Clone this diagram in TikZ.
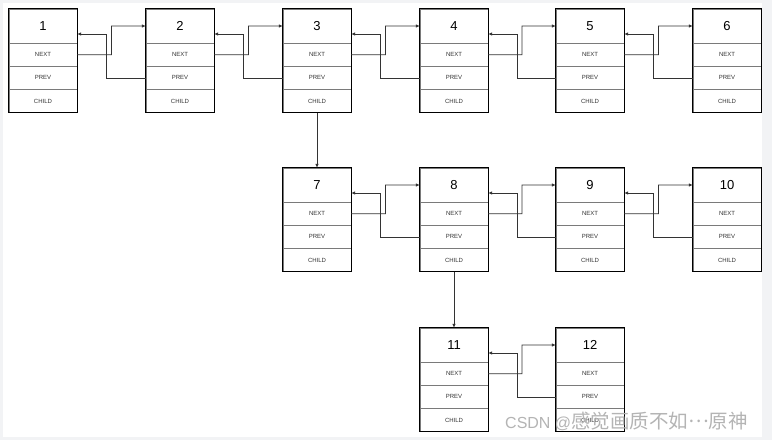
\documentclass[tikz,border=0pt]{standalone}
\usepackage{fontspec}
\setmainfont{Liberation Sans}
\newfontfamily\cjkfont{Noto Sans CJK SC}
\usetikzlibrary{positioning, calc, arrows.meta}
\definecolor{Dark}{HTML}{333333}
\definecolor{Grid}{HTML}{7A7A7A}
\definecolor{Frame}{HTML}{F2F3F5}
\definecolor{Mark}{HTML}{B4B4B4}
\tikzset{
    headnode/.style={rectangle, draw=Grid, minimum width=68pt, minimum height=34pt, inner sep=0pt, font=\fontsize{13}{15}\selectfont},
    fieldnode/.style={rectangle, draw=Grid, minimum width=68pt, minimum height=22.7pt, inner sep=0pt, font=\fontsize{6}{7}\selectfont, text=Dark},
    outline/.style={draw=black, line width=0.8pt},
    arrow/.style={-{Latex[length=4pt,width=3.5pt]}, line width=0.7pt, color=Dark},
}
\begin{document}
\begin{tikzpicture}[x=1pt, y=-1pt]
    % background
    \fill[Frame] (0,0) rectangle (772,440);
    \fill[white] (3,3) rectangle (762,437);
    \useasboundingbox (0,0) rectangle (772,440);

    % list nodes
    \foreach \id/\x/\y in {1/9/9, 2/146/9, 3/283/9, 4/420/9, 5/556/9, 6/693/9,
                           7/283/168, 8/420/168, 9/556/168, 10/693/168,
                           11/420/328, 12/556/328} {
        \node[headnode] (n\id) at (\x+34, \y+17) {\id};
        \node[fieldnode, below=0pt of n\id] (n\id next) {NEXT};
        \node[fieldnode, below=0pt of n\id next] (n\id prev) {PREV};
        \node[fieldnode, below=0pt of n\id prev] (n\id child) {CHILD};
        \draw[outline] (n\id.north west) rectangle (n\id child.south east);
    }

    % next / prev links
    \foreach \a/\b in {1/2, 2/3, 3/4, 4/5, 5/6, 7/8, 8/9, 9/10, 11/12} {
        \draw[arrow] (n\a next.east) -- ($(n\a next.east)!0.5!(n\b next.west)$) |- (n\b.west);
        \draw[arrow] (n\b prev.west) -- ([xshift=29pt]n\a prev.east) |- ([yshift=-8pt]n\a.east);
    }

    % child links
    \draw[arrow] (n3child.south) -- (n7.north);
    \draw[arrow] (n8child.south) -- (n11.north);

    % watermark
    \node[text=Mark, anchor=west, inner sep=0pt] (mark) at (505, 421) {\fontsize{16}{18}\selectfont CSDN @{\cjkfont\fontsize{19.5}{21}\selectfont 感觉画质不如\raisebox{0.3em}{⋯}原神}};
\end{tikzpicture}
\end{document}
